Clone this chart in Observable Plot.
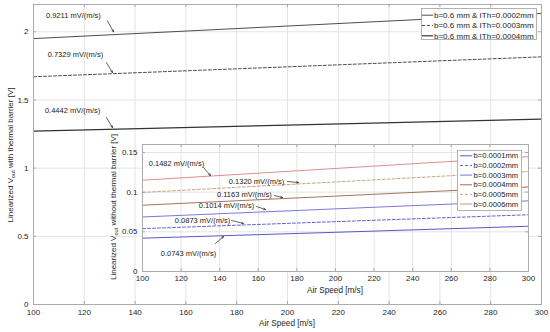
<!DOCTYPE html>
<html><head><meta charset="utf-8">
<script src="https://cdn.jsdelivr.net/npm/d3@7"></script>
<script src="https://cdn.jsdelivr.net/npm/@observablehq/plot@0.6"></script>
<style>
body{margin:0;background:#fff;}
#chart{position:relative;width:550px;height:332px;font-family:"Liberation Sans",Arial,sans-serif;}
#chart svg{position:absolute;overflow:visible;}
</style></head><body><div id="chart"></div>
<script>
// ---- data ----
const airSpeed = [100, 200, 300];
const mainSeries = ["b=0.6 mm & ITh=0.0002mm", "b=0.6 mm & ITh=0.0003mm", "b=0.6 mm & ITh=0.0004mm"];
const mainValues = [
  [1.950, 2.042, 2.134],
  [1.670, 1.743, 1.816],
  [1.272, 1.316, 1.360]
];
const mainSlopes = ["0.9211 mV/(m/s)", "0.7329 mV/(m/s)", "0.4442 mV/(m/s)"];
const insetSeries = ["b=0.0001mm", "b=0.0002mm", "b=0.0003mm", "b=0.0004mm", "b=0.0005mm", "b=0.0006mm"];
const insetValues = [
  [0.0420, 0.0494, 0.0570],
  [0.0540, 0.0628, 0.0715],
  [0.0687, 0.0789, 0.0890],
  [0.0835, 0.0950, 0.1065],
  [0.0996, 0.1128, 0.1260],
  [0.1150, 0.1298, 0.1446]
];
const insetSlopes = ["0.0743 mV/(m/s)", "0.0873 mV/(m/s)", "0.1014 mV/(m/s)", "0.1163 mV/(m/s)", "0.1320 mV/(m/s)", "0.1482 mV/(m/s)"];
const xTicks = [100, 120, 140, 160, 180, 200, 220, 240, 260, 280, 300];
const mainYTicks = [0, 0.5, 1, 1.5, 2];
const insetYTicks = [0, 0.05, 0.1, 0.15];
const xLabel = "Air Speed [m/s]";

// ---- annotation layout (text anchor, arrow start, arrow end; data units) ----
const mainNotes = [
  {tx: 115.7, ty: 2.119, x1: 129.1, y1: 2.080, x2: 131.5, y2: 2.000},
  {tx: 116.5, ty: 1.833, x1: 128.7, y1: 1.774, x2: 131.1, y2: 1.701},
  {tx: 115.4, ty: 1.422, x1: 128.7, y1: 1.371, x2: 131.1, y2: 1.298}
];
const insetNotes = [
  {tx: 123.8, ty: 0.0227, x1: 137.8, y1: 0.0353, x2: 142.0, y2: 0.0441},
  {tx: 131.1, ty: 0.0643, x1: 146.1, y1: 0.0643, x2: 152.3, y2: 0.0605},
  {tx: 143.5, ty: 0.0831, x1: 159.1, y1: 0.0819, x2: 163.7, y2: 0.0781},
  {tx: 152.8, ty: 0.0970, x1: 168.4, y1: 0.0957, x2: 172.5, y2: 0.0932},
  {tx: 159.1, ty: 0.1134, x1: 175.1, y1: 0.1134, x2: 180.8, y2: 0.1121},
  {tx: 117.6, ty: 0.1360, x1: 131.6, y1: 0.1310, x2: 135.2, y2: 0.1210}
];

// ---- styles ----
const mainStyles = [
  {stroke: "#3a3a3a", dash: null, w: 0.9},
  {stroke: "#3a3a3a", dash: "3,2", w: 0.9},
  {stroke: "#333333", dash: null, w: 1.2}
];
const insetStyles = [
  {stroke: "#4646c8", dash: null, w: 0.9},
  {stroke: "#5050d0", dash: "3,2", w: 0.9},
  {stroke: "#6a6ad2", dash: null, w: 0.9},
  {stroke: "#9a6448", dash: null, w: 0.9},
  {stroke: "#c49a70", dash: "3,2", w: 0.9},
  {stroke: "#d88080", dash: null, w: 0.9}
];
const FONT = '"Liberation Sans", Arial, sans-serif';
const gridColor = "#e4e4e4", frameColor = "#ababab", textColor = "#262626";

function rowsOf(values, i) { return airSpeed.map((x, j) => ({x, y: values[i][j]})); }

function seriesMarks(values, styles) {
  return values.map((v, i) => Plot.line(rowsOf(values, i), {
    x: "x", y: "y", stroke: styles[i].stroke, strokeWidth: styles[i].w,
    strokeDasharray: styles[i].dash || undefined
  }));
}
function noteMarks(notes, labels) {
  const d = notes.map((n, i) => ({...n, label: labels[i]}));
  return [
    Plot.arrow(d, {x1: "x1", y1: "y1", x2: "x2", y2: "y2", stroke: "#222", strokeWidth: 0.7, headLength: 4, headAngle: 50}),
    Plot.text(d, {x: "tx", y: "ty", text: "label", fontSize: 7.5, fill: "#1a1a1a"})
  ];
}
function innerTicks(yTicks, fw, fh) {
  const st = {stroke: "#8a8a8a", strokeWidth: 0.7};
  return [
    Plot.tickX(xTicks, {x: d => d, insetTop: fh - 3, ...st}),
    Plot.tickX(xTicks, {x: d => d, insetBottom: fh - 3, ...st}),
    Plot.tickY(yTicks, {y: d => d, insetRight: fw - 3, ...st}),
    Plot.tickY(yTicks, {y: d => d, insetLeft: fw - 3, ...st})
  ];
}

// ---- main plot ----
const M = {w: 550, h: 332, l: 33, r: 9, t: 4, b: 28};
const main = Plot.plot({
  width: M.w, height: M.h, marginLeft: M.l, marginRight: M.r, marginTop: M.t, marginBottom: M.b,
  style: {background: "transparent", fontFamily: FONT, fontSize: "8px", color: textColor},
  x: {domain: [100, 300]}, y: {domain: [0, 2.2]},
  marks: [
    Plot.gridX(xTicks, {stroke: gridColor, strokeOpacity: 1}),
    Plot.gridY(mainYTicks, {stroke: gridColor, strokeOpacity: 1}),
    ...innerTicks(mainYTicks, M.w - M.l - M.r, M.h - M.t - M.b),
    ...seriesMarks(mainValues, mainStyles),
    ...noteMarks(mainNotes, mainSlopes),
    Plot.axisX({ticks: xTicks, tickSize: 0, tickPadding: 5, label: null, tickFormat: d => String(d)}),
    Plot.axisY({ticks: mainYTicks, tickSize: 0, tickPadding: 5, label: null, tickFormat: d => String(d)}),
    Plot.frame({stroke: frameColor})
  ]
});
main.style.left = "0px"; main.style.top = "0px";

// ---- inset plot ----
const I = {x: 100, y: 140, w: 440, h: 160, l: 42, r: 12, t: 4, b: 29};
const inset = Plot.plot({
  width: I.w, height: I.h, marginLeft: I.l, marginRight: I.r, marginTop: I.t, marginBottom: I.b,
  style: {background: "transparent", fontFamily: FONT, fontSize: "8px", color: textColor},
  x: {domain: [100, 300]}, y: {domain: [0, 0.16]},
  marks: [
    Plot.frame({fill: "white", stroke: null}),
    Plot.gridX(xTicks, {stroke: gridColor, strokeOpacity: 1}),
    Plot.gridY(insetYTicks, {stroke: gridColor, strokeOpacity: 1}),
    ...innerTicks(insetYTicks, I.w - I.l - I.r, I.h - I.t - I.b),
    ...seriesMarks(insetValues, insetStyles),
    ...noteMarks(insetNotes, insetSlopes),
    Plot.axisX({ticks: xTicks, tickSize: 0, tickPadding: 4, label: null, tickFormat: d => String(d)}),
    Plot.axisY({ticks: insetYTicks, tickSize: 0, tickPadding: 5, label: null, tickFormat: d => String(d)}),
    Plot.frame({stroke: frameColor})
  ]
});
inset.style.left = I.x + "px"; inset.style.top = I.y + "px";

const chart = document.getElementById("chart");
chart.appendChild(main);
chart.appendChild(inset);

// ---- axis labels (with subscript) ----
function xTitle(svg, cx, cy) {
  d3.select(svg).append("text").attr("x", cx).attr("y", cy).attr("dy", "0.35em")
    .attr("text-anchor", "middle").attr("font-size", 8.2).attr("fill", textColor)
    .attr("font-family", FONT).text(xLabel);
}
function yTitle(svg, cx, cy, rest) {
  const t = d3.select(svg).append("text")
    .attr("transform", `translate(${cx},${cy}) rotate(-90)`)
    .attr("text-anchor", "middle").attr("dy", "0.35em")
    .attr("font-size", 8).attr("fill", textColor).attr("font-family", FONT);
  t.append("tspan").text("Linearized V");
  t.append("tspan").attr("font-size", 5.6).attr("dy", 2).text("out");
  t.append("tspan").attr("dy", -2).text(rest);
}
xTitle(main, (M.l + M.w - M.r) / 2, 323);
yTitle(main, 10, 155, " with thermal barrier [V]");
xTitle(inset, (I.l + I.w - I.r) / 2, 150);
yTitle(inset, 13, 67, " without thermal barrier [V]");

// ---- legends ----
function legend(svg, x, y, w, h, names, styles, rowY0, rowStep, fs, lineX1, lineX2, textX) {
  const g = d3.select(svg).append("g").attr("text-anchor", "start");
  g.append("rect").attr("x", x + 0.5).attr("y", y + 0.5).attr("width", w).attr("height", h)
    .attr("fill", "white").attr("stroke", "#a0a0a0").attr("stroke-width", 0.8);
  names.forEach((n, i) => {
    const yy = rowY0 + i * rowStep;
    g.append("line").attr("x1", lineX1).attr("x2", lineX2).attr("y1", yy).attr("y2", yy)
      .attr("stroke", styles[i].stroke).attr("stroke-width", styles[i].w)
      .attr("stroke-dasharray", styles[i].dash);
    g.append("text").attr("x", textX).attr("y", yy).attr("dy", "0.35em")
      .attr("text-anchor", "start")
      .attr("font-size", fs).attr("font-family", FONT).attr("fill", "#1a1a1a").text(n);
  });
}
legend(main, 421, 8, 115, 31, mainSeries, mainStyles, 15.2, 10.3, 8, 422, 433, 434);
legend(inset, 457 - I.x, 150 - I.y, 64, 60, insetSeries, insetStyles, 155.8 - I.y, 9.65, 7.6, 460 - I.x, 472 - I.x, 473.5 - I.x);
</script></body></html>
